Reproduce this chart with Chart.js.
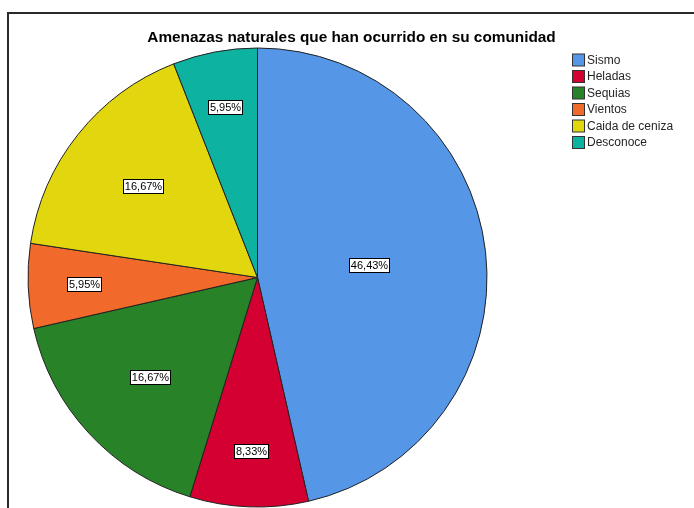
<!DOCTYPE html>
<html><head><meta charset="utf-8">
<script src="https://cdn.jsdelivr.net/npm/chart.js@4/dist/chart.umd.min.js"></script>
<style>html,body{margin:0;padding:0;background:#fff;overflow:hidden}#wrap{position:absolute;left:0;top:0;width:694px;height:508px}</style>
</head><body><div id="wrap"><canvas id="c" width="694" height="508"></canvas></div>
<script>
const titleText = "Amenazas naturales que han ocurrido en su comunidad";
const categories = ["Sismo", "Heladas", "Sequias", "Vientos", "Caida de ceniza", "Desconoce"];
const percentages = [46.43, 8.33, 16.67, 5.95, 16.67, 5.95];
const percentLabels = ["46,43%", "8,33%", "16,67%", "5,95%", "16,67%", "5,95%"];
const sliceColors = ["#5596E6", "#D50032", "#288228", "#F26A2B", "#E2D70F", "#0DB2A1"];

const framePlugin = {
  id: 'frame',
  beforeDraw(chart) {
    const ctx = chart.ctx;
    ctx.save();
    ctx.fillStyle = '#fff';
    ctx.fillRect(0, 0, chart.width, chart.height);
    ctx.fillStyle = '#2a2a2a';
    ctx.fillRect(7, 12, chart.width, 2);
    ctx.fillRect(7, 12, 2, chart.height);
    ctx.restore();
  }
};

const decorPlugin = {
  id: 'decor',
  afterDraw(chart) {
    const ctx = chart.ctx;
    ctx.save();
    // title
    ctx.font = 'bold 15.35px "Liberation Sans", Arial, sans-serif';
    ctx.fillStyle = '#000';
    ctx.textAlign = 'center';
    ctx.textBaseline = 'alphabetic';
    ctx.fillText(titleText, 351.5, 42);
    // legend
    ctx.font = '12px "Liberation Sans", Arial, sans-serif';
    ctx.textAlign = 'left';
    ctx.textBaseline = 'middle';
    const ds = chart.data.datasets[0];
    chart.data.labels.forEach((lab, i) => {
      const y = 60 + i * 16.5;
      ctx.fillStyle = ds.backgroundColor[i];
      ctx.fillRect(572.5, y - 6, 12, 12);
      ctx.strokeStyle = '#333';
      ctx.lineWidth = 1;
      ctx.strokeRect(572.5, y - 6, 12, 12);
      ctx.fillStyle = '#262626';
      ctx.fillText(lab, 587, y + 0.5);
    });
    // slice labels
    const meta = chart.getDatasetMeta(0);
    ctx.font = '11px "Liberation Sans", Arial, sans-serif';
    ctx.textAlign = 'center';
    meta.data.forEach((arc, i) => {
      const p = arc.getProps(['x','y','startAngle','endAngle','outerRadius'], true);
      const mid = (p.startAngle + p.endAngle) / 2;
      const half = (p.endAngle - p.startAngle) / 2;
      const centroid = (2/3) * Math.sin(half) / half;
      const pct = percentages[i];
      const frac = pct < 10 ? 0.755 : Math.max(centroid, 0.49);
      const lx = p.x + Math.cos(mid) * p.outerRadius * frac;
      const ly = p.y + Math.sin(mid) * p.outerRadius * frac;
      const txt = percentLabels[i];
      const w = Math.round(ctx.measureText(txt).width + 3);
      const h = 14;
      const bx = Math.round(lx - w / 2) + 0.5, by = Math.round(ly - h / 2) + 0.5;
      ctx.fillStyle = '#fff';
      ctx.fillRect(bx, by, w, h);
      ctx.strokeStyle = '#000';
      ctx.lineWidth = 1;
      ctx.strokeRect(bx, by, w, h);
      ctx.fillStyle = '#000';
      ctx.textBaseline = 'middle';
      ctx.fillText(txt, bx + w / 2, by + h / 2 + 0.5);
    });
    ctx.restore();
  }
};

new Chart(document.getElementById('c'), {
  type: 'pie',
  data: {
    labels: categories,
    datasets: [{
      data: percentages,
      backgroundColor: sliceColors,
      borderColor: '#222',
      borderWidth: 1
    }]
  },
  options: {
    responsive: false,
    animation: false,
    devicePixelRatio: 1,
    layout: { padding: { left: 27.5, top: 47.5, right: 206.5, bottom: 0.5 } },
    plugins: { legend: { display: false }, title: { display: false }, tooltip: { enabled: false } }
  },
  plugins: [framePlugin, decorPlugin]
});
</script>
</body></html>
